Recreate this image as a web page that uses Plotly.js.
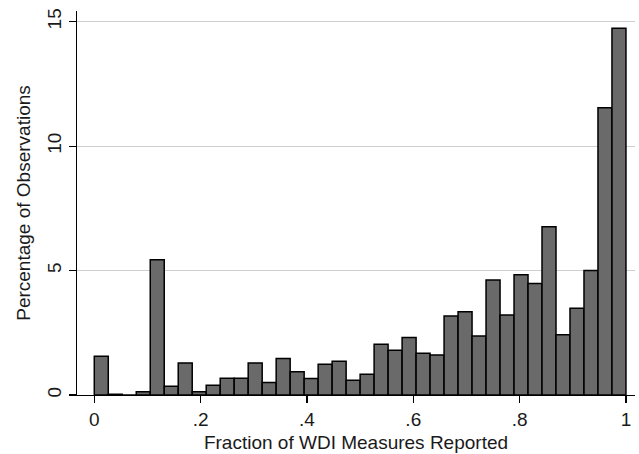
<!DOCTYPE html>
<html>
<head>
<meta charset="utf-8">
<script src="https://cdn.plot.ly/plotly-3.0.1.min.js"></script>
<style>html,body{margin:0;padding:0;background:#fff;}#chart{width:639px;height:454px;}</style>
</head>
<body>
<div id="chart"></div>
<script>
// Histogram: 38 equal-width bins on [0, 1]
const binCount = 38;
const percentages = [
  1.56, 0.03, 0.00, 0.13, 5.43, 0.35, 1.29, 0.13, 0.39, 0.67,
  0.67, 1.29, 0.50, 1.47, 0.93, 0.66, 1.24, 1.36, 0.59, 0.83,
  2.04, 1.80, 2.31, 1.68, 1.61, 3.17, 3.35, 2.37, 4.62, 3.21,
  4.83, 4.48, 6.76, 2.42, 3.49, 5.00, 11.54, 14.74
];
const xTickVals = [0, 0.2, 0.4, 0.6, 0.8, 1];
const xTickText = ["0", ".2", ".4", ".6", ".8", "1"];
const yTickVals = [0, 5, 10, 15];
const yTickText = ["0", "5", "10", "15"];

const binWidth = 1 / binCount;
const binCenters = percentages.map((_, i) => (i + 0.5) * binWidth);

const font = {family: "Liberation Sans, Arial, sans-serif", size: 19, color: "#1a1a1a"};

const trace = {
  type: "bar",
  x: binCenters,
  y: percentages,
  width: binWidth,
  marker: {color: "#6a6a6a", line: {color: "#000000", width: 1.5}},
  hoverinfo: "x+y"
};

const layout = {
  width: 639,
  height: 454,
  margin: {l: 77, r: 4, t: 11, b: 59},
  paper_bgcolor: "#ffffff",
  plot_bgcolor: "#ffffff",
  showlegend: false,
  font: font,
  bargap: 0,
  xaxis: {
    range: [-0.0325, 1.017],
    tickvals: xTickVals,
    ticktext: xTickText,
    ticks: "outside",
    ticklen: 7,
    tickwidth: 1.2,
    tickcolor: "#000",
    showline: true,
    linecolor: "#000",
    linewidth: 1.2,
    showgrid: false,
    zeroline: false,
    tickfont: font,
    title: {text: "Fraction of WDI Measures Reported", font: font, standoff: 6},
    automargin: false
  },
  yaxis: {
    range: [0, 15.43],
    tickvals: yTickVals,
    ticktext: yTickText,
    tickangle: -90,
    ticks: "outside",
    ticklen: 7,
    tickwidth: 1.2,
    tickcolor: "#000",
    showline: true,
    linecolor: "#000",
    linewidth: 1.2,
    showgrid: true,
    gridcolor: "#cfcfcf",
    gridwidth: 1,
    zeroline: false,
    tickfont: font,
    title: {text: "Percentage of Observations", font: font, standoff: 8},
    automargin: false
  }
};

Plotly.newPlot("chart", [trace], layout, {displayModeBar: false, staticPlot: true});
</script>
</body>
</html>
